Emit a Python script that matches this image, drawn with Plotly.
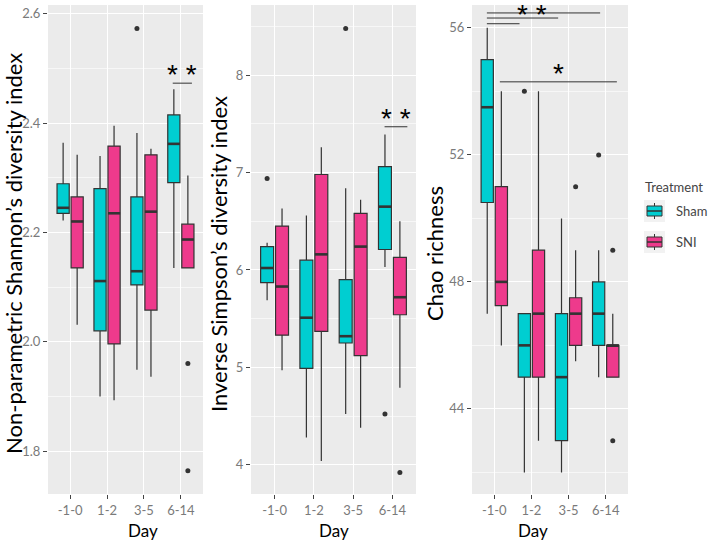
import plotly.graph_objects as go

days = ["-1-0", "1-2", "3-5", "6-14"]
groups = ["Sham", "SNI"]
colors = {"Sham": "#00CED1", "SNI": "#EE3A8C"}

# box stats per group: lower whisker, q1, median, q3, upper whisker for each day
shannon = {
    "Sham": {"low": [2.222, 1.900, 1.949, 2.135], "q1": [2.235, 2.020, 2.104, 2.291],
             "med": [2.245, 2.111, 2.129, 2.362], "q3": [2.289, 2.280, 2.265, 2.415],
             "high": [2.364, 2.340, 2.382, 2.462]},
    "SNI": {"low": [2.031, 1.893, 1.936, 2.135], "q1": [2.135, 1.996, 2.058, 2.135],
            "med": [2.220, 2.235, 2.238, 2.187], "q3": [2.265, 2.358, 2.342, 2.215],
            "high": [2.342, 2.395, 2.353, 2.304]},
}
shannon_out = {"Sham": ([2], [2.573]), "SNI": ([3, 3], [1.960, 1.764])}

simpson = {
    "Sham": {"low": [5.69, 4.28, 4.52, 6.03], "q1": [5.87, 4.99, 5.25, 6.21],
             "med": [6.02, 5.51, 5.32, 6.65], "q3": [6.24, 6.10, 5.90, 7.06],
             "high": [6.28, 6.56, 6.84, 7.39]},
    "SNI": {"low": [4.97, 4.04, 4.38, 4.79], "q1": [5.33, 5.37, 5.12, 5.54],
            "med": [5.83, 6.16, 6.24, 5.72], "q3": [6.45, 6.98, 6.58, 6.13],
            "high": [6.63, 7.26, 6.72, 6.50]},
}
simpson_out = {"Sham": ([0, 2, 3], [6.94, 8.48, 4.52]), "SNI": ([3], [3.92])}

chao = {
    "Sham": {"low": [47.0, 42.0, 42.0, 45.0], "q1": [50.5, 45.0, 43.0, 46.0],
             "med": [53.5, 46.0, 45.0, 47.0], "q3": [55.0, 47.0, 47.0, 48.0],
             "high": [56.0, 47.0, 50.0, 49.0]},
    "SNI": {"low": [46.0, 43.0, 45.5, 45.0], "q1": [47.25, 45.0, 46.0, 45.0],
            "med": [48.0, 47.0, 47.0, 46.0], "q3": [51.0, 49.0, 47.5, 46.0],
            "high": [54.0, 54.0, 49.0, 47.0]},
}
chao_out = {"Sham": ([1, 3], [54.0, 52.0]), "SNI": ([2, 3, 3], [51.0, 49.0, 43.0])}

# significance brackets: (x start, x end, y) and labels (x, y of bracket, text)
shannon_sig = [(2.78, 3.3, 2.473)]
shannon_lab = [(3.03, 2.473, "* *")]
simpson_sig = [(2.8, 3.38, 7.47)]
simpson_lab = [(3.1, 7.47, "* *")]
chao_sig = [(-0.2, 2.85, 56.47), (-0.2, 1.72, 56.31), (-0.2, 0.68, 56.13), (0.15, 3.3, 54.3)]
chao_lab = [(1.02, 56.15, "* *"), (1.72, 54.3, "*")]

panels = [
    ("Non-parametric Shannon’s diversity index", shannon, shannon_out, shannon_sig, shannon_lab,
     [1.7215, 2.616], [1.8, 2.0, 2.2, 2.4, 2.6], 0.1, ".1f", [48, 203]),
    ("Inverse Simpson’s diversity index", simpson, simpson_out, simpson_sig, simpson_lab,
     [3.70, 8.72], [4, 5, 6, 7, 8], 0.5, "d", [251, 416]),
    ("Chao richness", chao, chao_out, chao_sig, chao_lab,
     [41.32, 56.72], [44, 48, 52, 56], 2, "d", [472, 628]),
]

W, H = 709, 541
offset = {"Sham": -0.19, "SNI": 0.19}
bw = 0.33
font = "Lato"

fig = go.Figure()
shapes = []
annotations = []
for i, (title, stats, outs, sigs, labs, yr, yt, ydt, yfmt, xpx) in enumerate(panels):
    n = "" if i == 0 else str(i + 1)
    xa, ya = "x" + n, "y" + n
    for g in groups:
        s = stats[g]
        pos = [k + offset[g] for k in range(len(days))]
        fig.add_trace(go.Box(
            x=pos, q1=s["q1"], median=s["med"], q3=s["q3"],
            lowerfence=s["low"], upperfence=s["high"], width=bw,
            fillcolor=colors[g], line=dict(color="#333333", width=1.2),
            whiskerwidth=0, boxpoints=False, name=g, showlegend=False,
            xaxis=xa, yaxis=ya, hoverinfo="skip"))
        mx, my = [], []
        for p, m in zip(pos, s["med"]):
            mx += [p - bw / 2, p + bw / 2, None]
            my += [m, m, None]
        fig.add_trace(go.Scatter(x=mx, y=my, mode="lines", line=dict(color="#333333", width=2.6),
                                 showlegend=False, xaxis=xa, yaxis=ya, hoverinfo="skip"))
        ox, oy = outs[g]
        fig.add_trace(go.Scatter(x=[k + offset[g] for k in ox], y=oy, mode="markers",
                                 marker=dict(color="#333333", size=5), showlegend=False,
                                 xaxis=xa, yaxis=ya, hoverinfo="skip"))
    for x0, x1, y in sigs:
        shapes.append(dict(type="line", xref=xa, yref=ya, x0=x0, x1=x1, y0=y, y1=y,
                           line=dict(color="#333333", width=1)))
    for x, y, t in labs:
        annotations.append(dict(text=t, x=x, y=y, xref=xa, yref=ya, showarrow=False,
                                font=dict(size=28, color="black", family="Liberation Sans"),
                                yanchor="bottom", yshift=-9))
    dom = [xpx[0] / W, xpx[1] / W]
    fig.update_layout(**{
        "xaxis" + n: dict(domain=dom, range=[-0.6, 3.6], tickvals=list(range(len(days))),
                          ticktext=days, showgrid=True, gridcolor="white", gridwidth=1.3,
                          zeroline=False, ticks="outside", ticklen=4, tickcolor="#444444",
                          tickfont=dict(size=13, color="#7a7a7a", family=font),
                          anchor=ya, fixedrange=True, automargin=False),
        "yaxis" + n: dict(domain=[47 / H, 536 / H], range=yr, tickvals=yt, tickformat=yfmt,
                          showgrid=True, gridcolor="white", gridwidth=1.3, zeroline=False,
                          ticks="outside", ticklen=4, tickcolor="#444444",
                          tickfont=dict(size=13, color="#7a7a7a", family=font),
                          minor=dict(dtick=ydt, tick0=0, showgrid=True, gridcolor="#f7f7f7",
                                     gridwidth=0.7, ticks=""),
                          anchor=xa, fixedrange=True, automargin=False),
    })
    annotations.append(dict(text="Day", x=(xpx[0] + xpx[1]) / 2 / W, y=(H - 530) / H,
                            xref="paper", yref="paper", showarrow=False,
                            font=dict(size=17, color="black", family=font), yanchor="middle"))

ytitle_x = [14, 219, 435]
for (title, *_), tx in zip(panels, ytitle_x):
    annotations.append(dict(text=title, x=tx / W, y=(H - 254) / H, xref="paper", yref="paper",
                            showarrow=False, textangle=-90, xanchor="center", yanchor="middle",
                            font=dict(size=22, color="black", family=font)))

# legend drawn by hand, ggplot style
annotations.append(dict(text="Treatment", x=643 / W, y=(H - 187) / H, xref="paper", yref="paper",
                        showarrow=False, xanchor="left", yanchor="middle",
                        font=dict(size=13, color="#444444", family=font)))
for g, yc in zip(groups, [211, 242]):
    shapes.append(dict(type="rect", xref="paper", yref="paper", x0=644 / W, x1=665 / W,
                       y0=(H - yc - 11) / H, y1=(H - yc + 11) / H,
                       fillcolor="#F2F2F2", line=dict(width=0)))
    shapes.append(dict(type="line", xref="paper", yref="paper", x0=654.5 / W, x1=654.5 / W,
                       y0=(H - yc - 8) / H, y1=(H - yc + 8) / H,
                       line=dict(color="#333333", width=1)))
    shapes.append(dict(type="rect", xref="paper", yref="paper", x0=647 / W, x1=662 / W,
                       y0=(H - yc - 5) / H, y1=(H - yc + 5) / H,
                       fillcolor=colors[g], line=dict(color="#333333", width=1)))
    shapes.append(dict(type="line", xref="paper", yref="paper", x0=647 / W, x1=662 / W,
                       y0=(H - yc) / H, y1=(H - yc) / H,
                       line=dict(color="#333333", width=1.5)))
    annotations.append(dict(text=g, x=674 / W, y=(H - yc) / H, xref="paper", yref="paper",
                            showarrow=False, xanchor="left", yanchor="middle",
                            font=dict(size=13, color="#444444", family=font)))

fig.update_layout(
    width=W, height=H, margin=dict(l=0, r=0, t=0, b=0),
    paper_bgcolor="white", plot_bgcolor="#EBEBEB",
    shapes=shapes, annotations=annotations, showlegend=False,
)

# drop the page's default body margin so the figure sits at the window corner
fig.write_html("out.html", config={"displayModeBar": False},
               post_script="document.body.style.margin='0';")
